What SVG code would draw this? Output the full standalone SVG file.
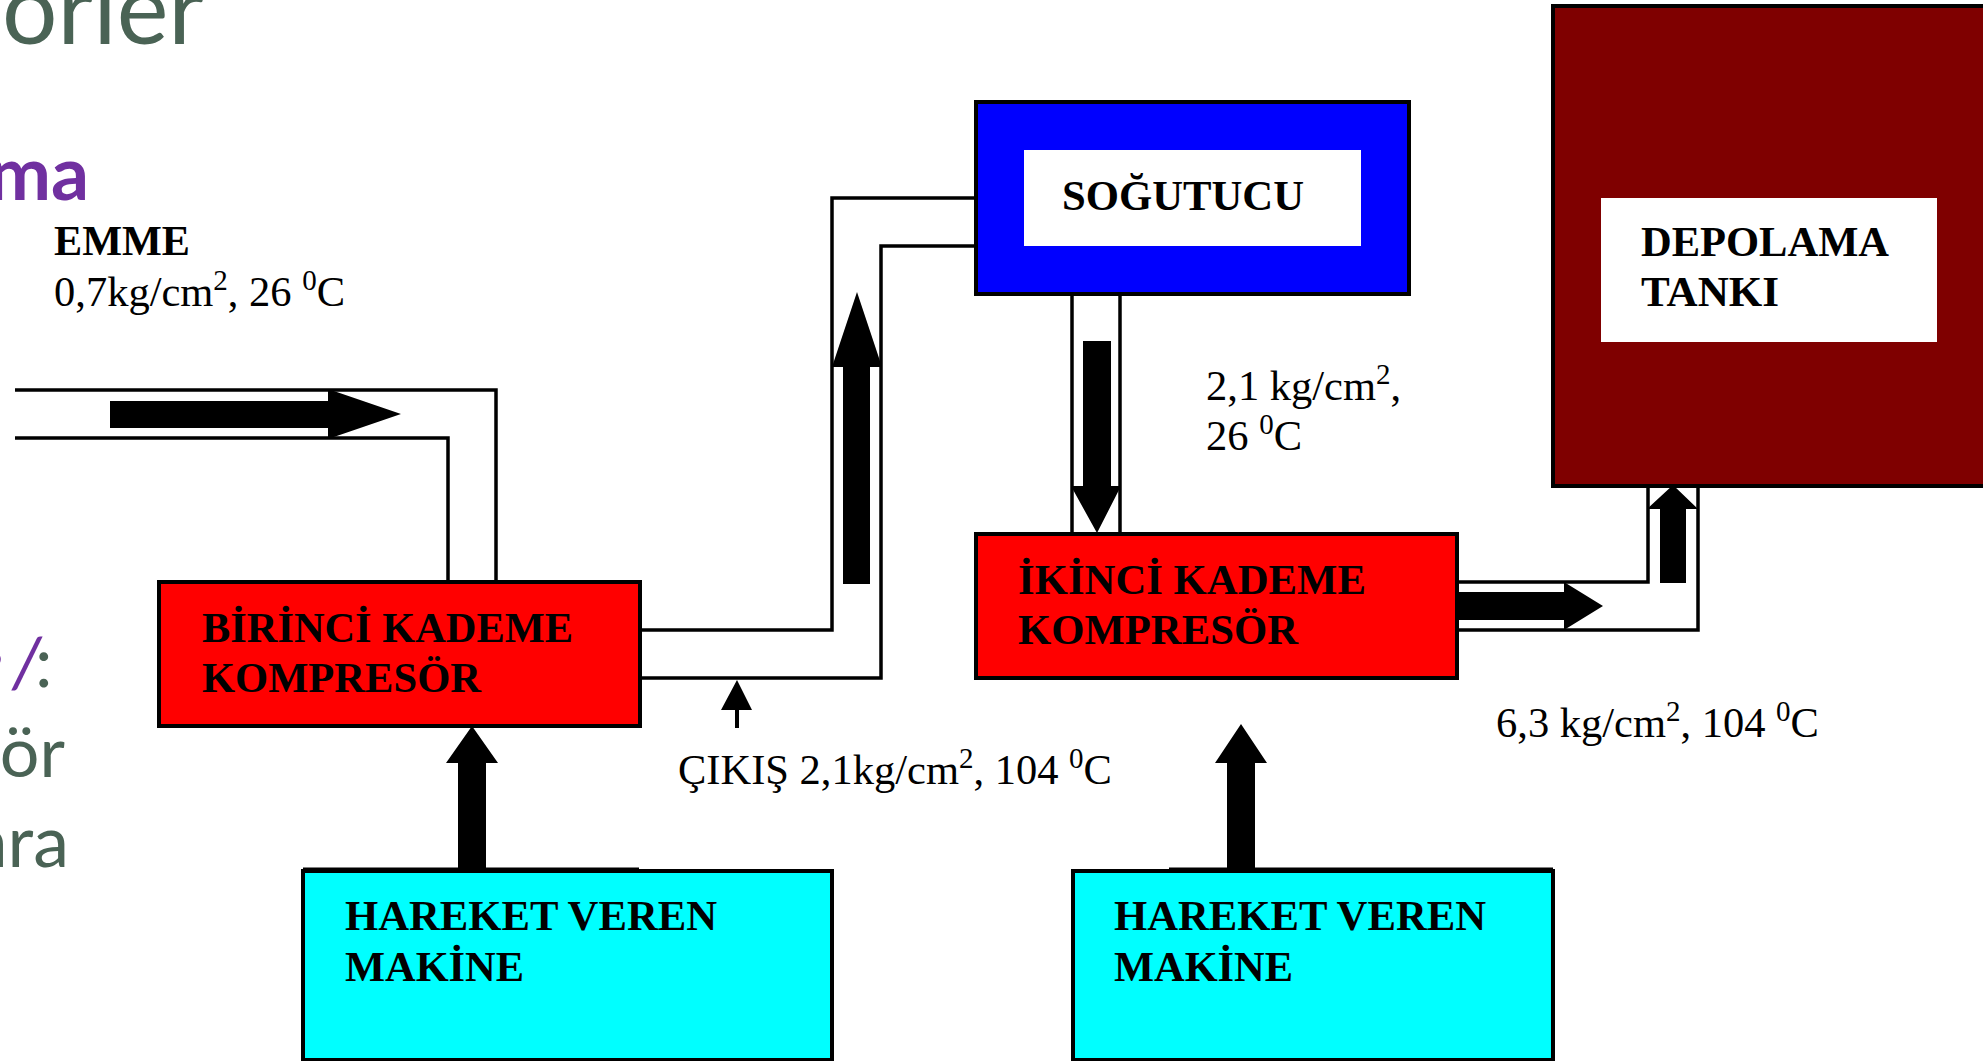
<svg xmlns="http://www.w3.org/2000/svg" width="1983" height="1061" viewBox="0 0 1983 1061">
<style>
.box{stroke:#000;stroke-width:4}
.inner{fill:#fff}
.pipe{fill:none;stroke:#000;stroke-width:3.5}
.arrow{fill:#000}
.lb{font-family:"Liberation Serif","Times New Roman",serif;font-weight:bold;font-size:42px;fill:#000}
.lr{font-family:"Liberation Serif","Times New Roman",serif;font-size:42.5px;fill:#000}
.sup{font-size:29px}
.bg{font-family:Lato,"Open Sans",sans-serif;fill:#4a6355}
.pu{fill:#7030a0}
</style>
<rect width="1983" height="1061" fill="#fff"/>
<g id="background-text">
<text class="bg" x="2" y="44" font-size="98" textLength="202" lengthAdjust="spacingAndGlyphs">orier</text>
<text class="bg pu" x="89" y="200" font-size="75" font-weight="bold" text-anchor="end">ma</text>
<text class="bg" y="687" font-size="70"><tspan class="pu" font-style="italic" x="-30">e</tspan><tspan class="pu" font-style="italic" x="12">/</tspan><tspan x="35">:</tspan></text>
<text class="bg" x="65" y="777" font-size="70" text-anchor="end">ör</text>
<text class="bg" x="69" y="867" font-size="72" text-anchor="end">nra</text>
</g>
<g id="node-sogutucu">
<rect class="box" x="976" y="102" width="433" height="192" fill="#0000ff"/>
<rect class="inner" x="1024" y="150" width="337" height="96"/>
<text class="lb" x="1062" y="210" textLength="242" lengthAdjust="spacingAndGlyphs">SOĞUTUCU</text>
</g>
<g id="node-depolama">
<rect class="box" x="1553" y="6" width="440" height="480" fill="#7f0000"/>
<rect class="inner" x="1601" y="198" width="336" height="144"/>
<text class="lb" x="1641" y="256" textLength="248" lengthAdjust="spacingAndGlyphs">DEPOLAMA</text>
<text class="lb" x="1641" y="306" textLength="138" lengthAdjust="spacingAndGlyphs">TANKI</text>
</g>
<g id="node-birinci">
<rect class="box" x="159" y="582" width="481" height="144" fill="#ff0000"/>
<text class="lb" x="202" y="642" textLength="371" lengthAdjust="spacingAndGlyphs">BİRİNCİ KADEME</text>
<text class="lb" x="202" y="692" textLength="279" lengthAdjust="spacingAndGlyphs">KOMPRESÖR</text>
</g>
<g id="node-ikinci">
<rect class="box" x="976" y="534" width="481" height="144" fill="#ff0000"/>
<text class="lb" x="1018" y="594" textLength="348" lengthAdjust="spacingAndGlyphs">İKİNCİ KADEME</text>
<text class="lb" x="1018" y="644" textLength="280" lengthAdjust="spacingAndGlyphs">KOMPRESÖR</text>
</g>
<g id="node-hareket-1">
<rect class="box" x="303" y="871" width="529" height="189" fill="#00ffff"/>
<text class="lb" x="345" y="930" textLength="372" lengthAdjust="spacingAndGlyphs">HAREKET VEREN</text>
<text class="lb" x="345" y="981" textLength="179" lengthAdjust="spacingAndGlyphs">MAKİNE</text>
</g>
<g id="node-hareket-2">
<rect class="box" x="1073" y="871" width="480" height="189" fill="#00ffff"/>
<text class="lb" x="1114" y="930" textLength="372" lengthAdjust="spacingAndGlyphs">HAREKET VEREN</text>
<text class="lb" x="1114" y="981" textLength="179" lengthAdjust="spacingAndGlyphs">MAKİNE</text>
</g>
<g id="labels">
<text class="lb" x="54" y="255" textLength="136" lengthAdjust="spacingAndGlyphs">EMME</text>
<text class="lr" x="54" y="306">0,7kg/cm<tspan class="sup" dy="-16">2</tspan><tspan dy="16">, 26 </tspan><tspan class="sup" dy="-16">0</tspan><tspan dy="16">C</tspan></text>
<text class="lr" x="1206" y="400">2,1 kg/cm<tspan class="sup" dy="-16">2</tspan><tspan dy="16">,</tspan></text>
<text class="lr" x="1206" y="450">26 <tspan class="sup" dy="-16">0</tspan><tspan dy="16">C</tspan></text>
<text class="lr" x="678" y="784">ÇIKIŞ 2,1kg/cm<tspan class="sup" dy="-16">2</tspan><tspan dy="16">, 104 </tspan><tspan class="sup" dy="-16">0</tspan><tspan dy="16">C</tspan></text>
<text class="lr" x="1496" y="737">6,3 kg/cm<tspan class="sup" dy="-16">2</tspan><tspan dy="16">, 104 </tspan><tspan class="sup" dy="-16">0</tspan><tspan dy="16">C</tspan></text>
</g>
<g id="connectors">
<polyline class="pipe" points="15,390 496,390 496,582"/>
<polyline class="pipe" points="15,438 448,438 448,582"/>
<polyline class="pipe" points="640,630 832,630 832,198 976,198"/>
<polyline class="pipe" points="640,678 881,678 881,246 976,246"/>
<polyline class="pipe" points="1072,295 1072,533"/>
<polyline class="pipe" points="1120,295 1120,533"/>
<polyline class="pipe" points="1457,582 1648,582 1648,487"/>
<polyline class="pipe" points="1457,630 1698,630 1698,487"/>
<line x1="303" y1="870" x2="639" y2="870" stroke="#000" stroke-width="5"/>
<line x1="1169" y1="870" x2="1553" y2="870" stroke="#000" stroke-width="5"/>
<polygon class="arrow" points="110,401 328,401 328,389 401,414 328,439 328,428 110,428"/>
<polygon class="arrow" points="843,584 843,367 832,367 857,292 882,367 870,367 870,584"/>
<polygon class="arrow" points="1083,341 1111,341 1111,486 1121,486 1097,533 1071,486 1083,486"/>
<polygon class="arrow" points="1457,592 1564,592 1564,582 1603,606 1564,630 1564,620 1457,620"/>
<polygon class="arrow" points="1660,583 1660,509 1647,509 1673,485 1698,509 1686,509 1686,583"/>
<polygon class="arrow" points="458,871 458,763 446,763 472,726 498,763 486,763 486,871"/>
<polygon class="arrow" points="1227,871 1227,763 1215,763 1241,724 1267,763 1255,763 1255,871"/>
<polygon class="arrow" points="735,728 735,710 721,710 737,680 752,710 739,710 739,728"/>
</g>
</svg>
